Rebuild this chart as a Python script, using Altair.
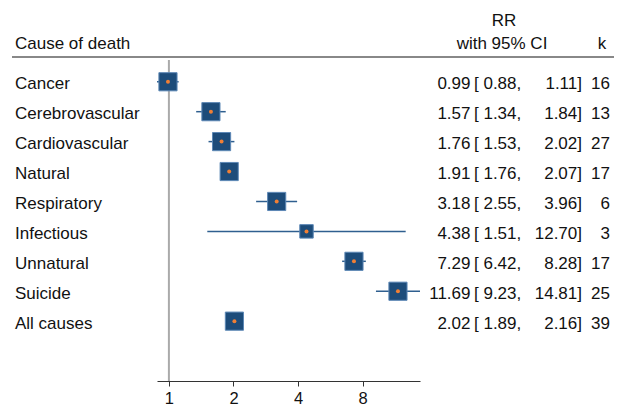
import altair as alt
import pandas as pd

causes = ["Cancer", "Cerebrovascular", "Cardiovascular", "Natural", "Respiratory",
          "Infectious", "Unnatural", "Suicide", "All causes"]
rr = [0.99, 1.57, 1.76, 1.91, 3.18, 4.38, 7.29, 11.69, 2.02]
lower = [0.88, 1.34, 1.53, 1.76, 2.55, 1.51, 6.42, 9.23, 1.89]
upper = [1.11, 1.84, 2.02, 2.07, 3.96, 12.70, 8.28, 14.81, 2.16]
k = [16, 13, 27, 17, 6, 3, 17, 25, 39]
weight = [1, 1, 1, 1, 1, 0.55, 1, 1, 1]
ticks = [1, 2, 4, 8]

df = pd.DataFrame({
    "cause": causes, "rr": rr, "lo": lower, "hi": upper, "k": k, "w": weight,
    "row": list(range(len(causes))),
})
df["est_txt"] = [f"{v:.2f}" for v in rr]
df["lo_txt"] = [f"[ {v:.2f}," for v in lower]
df["hi_txt"] = [f"{v:.2f}]" for v in upper]
df["k_txt"] = [str(v) for v in k]

FONT = "Liberation Sans"
FS = 17
W, H = 606, 373

xscale = alt.Scale(type="log", base=2, domain=[min(lower), max(upper)],
                   range=[149, 412], nice=False)
xaxis = alt.Axis(values=ticks, format="d", title=None, grid=False,
                 labelFontSize=16.5, labelFont=FONT, labelColor="#111",
                 domainColor="#333", tickColor="#333", tickSize=5,
                 labelPadding=4, labelFlush=False, domainWidth=1.2)
yscale = alt.Scale(domain=[-2.465, 10], reverse=True, nice=False, zero=False)
Y = alt.Y("row:Q", scale=yscale, axis=None)

base = alt.Chart(df)

ci = base.mark_rule(color="#2f5f8f", strokeWidth=1.5).encode(
    x=alt.X("lo:Q", scale=xscale, axis=xaxis), x2="hi:Q", y=Y)

boxes = base.mark_square(filled=True, color="#1d4c7a", stroke="#5d88b6",
                         strokeWidth=1, opacity=1).encode(
    x=alt.X("rr:Q", scale=xscale, axis=xaxis), y=Y,
    size=alt.Size("w:Q", scale=alt.Scale(domain=[0, 1], range=[0, 330]), legend=None))

dots = base.mark_circle(color="#f07f35", size=16, opacity=1).encode(
    x=alt.X("rr:Q", scale=xscale, axis=xaxis), y=Y)

ref = alt.Chart(pd.DataFrame({"v": [1]})).mark_rule(color="#aaaaaa", strokeWidth=2).encode(
    x=alt.X("v:Q", scale=xscale, axis=xaxis), y=alt.value(52), y2=alt.value(H))

hline = alt.Chart(pd.DataFrame({"a": [0]})).mark_rule(color="#888888", strokeWidth=2).encode(
    x=alt.value(4), x2=alt.value(W), y=alt.value(49))


def col(field, xpos, align):
    return base.mark_text(font=FONT, fontSize=FS, color="#111", align=align,
                          baseline="alphabetic", dy=7.5).encode(
        x=alt.value(xpos), y=Y, text=f"{field}:N")


labels = col("cause", 7, "left")
est = col("est_txt", 462.5, "right")
lo_t = col("lo_txt", 466, "left")
hi_t = col("hi_txt", 574, "right")
k_t = col("k_txt", 602, "right")


def header(txt, xpos, ypos, align):
    return alt.Chart(pd.DataFrame({"a": [0]})).mark_text(
        font=FONT, fontSize=FS, color="#111", align=align, baseline="alphabetic",
        text=txt).encode(x=alt.value(xpos), y=alt.value(ypos))


h1 = header("Cause of death", 7, 41, "left")
h2 = header("RR", 496, 18, "center")
h3 = header("with 95% CI", 494, 41, "center")
h4 = header("k", 594, 41, "center")

chart = alt.layer(ref, hline, ci, boxes, dots, labels, est, lo_t, hi_t, k_t,
                  h1, h2, h3, h4).properties(
    width=W, height=H, autosize="none",
    padding={"left": 0, "top": 0, "right": 0, "bottom": 24},
).configure_view(stroke=None)

chart.save("out.html", embed_options={"renderer": "svg", "actions": False})
